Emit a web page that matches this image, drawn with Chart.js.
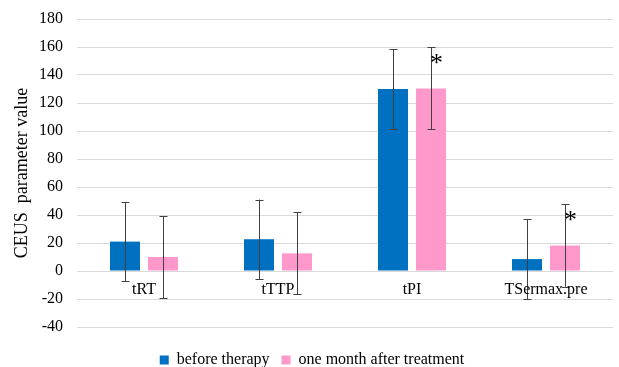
<!DOCTYPE html>
<html lang="en">
<head>
    <meta charset="UTF-8">
    <title>CEUS</title>
    <style>
        html, body { margin: 0; padding: 0; background: #fff; }
        #wrap { width: 619px; height: 367px; }
    </style>
</head>
<body>
<script src="https://cdn.jsdelivr.net/npm/chart.js@4.4.0/dist/chart.umd.min.js"></script>
<div id="wrap"><canvas id="bar-chart"></canvas></div>
<script>
    var categories = ["tRT", "tTTP", "tPI", "TSermax.pre"];
    var beforeMean = [21, 22.7, 130, 8.5];
    var beforeSd = [28.3, 28.3, 28.5, 28.5];
    var afterMean = [10, 12.6, 130.4, 18.2];
    var afterSd = [29.3, 29.3, 29.3, 29.4];
    var afterStar = [false, false, true, true];
    var seriesNames = ["before therapy", "one month after treatment"];

    var serif = "'Liberation Serif', 'Times New Roman', serif";
    var sds = [beforeSd, afterSd];
    var stars = [[false, false, false, false], afterStar];

    // error bars, asterisks and the category names under the zero line
    var extras = {
        id: 'extras',
        afterDatasetsDraw: function (chart) {
            var ctx = chart.ctx;
            var y = chart.scales.y;
            var x = chart.scales.x;
            ctx.save();
            for (var d = 0; d < chart.data.datasets.length; d++) {
                var meta = chart.getDatasetMeta(d);
                var vals = chart.data.datasets[d].data;
                meta.data.forEach(function (bar, i) {
                    var top = y.getPixelForValue(vals[i] + sds[d][i]);
                    var bot = y.getPixelForValue(vals[i] - sds[d][i]);
                    var cx = Math.round(bar.x) + 0.5;
                    ctx.strokeStyle = '#404040';
                    ctx.lineWidth = 1;
                    ctx.beginPath();
                    ctx.moveTo(cx, top);
                    ctx.lineTo(cx, bot);
                    ctx.moveTo(cx - 4, Math.round(top) + 0.5);
                    ctx.lineTo(cx + 4, Math.round(top) + 0.5);
                    ctx.moveTo(cx - 4, Math.round(bot) + 0.5);
                    ctx.lineTo(cx + 4, Math.round(bot) + 0.5);
                    ctx.stroke();
                    if (stars[d][i]) {
                        ctx.fillStyle = '#000';
                        ctx.font = '26px ' + serif;
                        ctx.textAlign = 'center';
                        ctx.textBaseline = 'middle';
                        ctx.fillText('*', cx + 5, top + 17);
                    }
                });
            }
            ctx.fillStyle = '#000';
            ctx.font = '16px ' + serif;
            ctx.textAlign = 'center';
            ctx.textBaseline = 'middle';
            var zero = y.getPixelForValue(0);
            categories.forEach(function (c, i) {
                ctx.fillText(c, x.getPixelForValue(i), zero + 19);
            });
            ctx.restore();
        }
    };

    new Chart(document.getElementById("bar-chart"), {
        type: 'bar',
        data: {
            labels: categories,
            datasets: [
                { label: seriesNames[0], data: beforeMean, backgroundColor: '#0070C0' },
                { label: seriesNames[1], data: afterMean, backgroundColor: '#FF99CC' }
            ]
        },
        options: {
            responsive: true,
            maintainAspectRatio: false,
            animation: false,
            datasets: { bar: { categoryPercentage: 0.567, barPercentage: 0.79 } },
            layout: { padding: { left: 11, right: 6, top: 19, bottom: -11 } },
            scales: {
                x: {
                    ticks: { display: false },
                    grid: { display: false },
                    border: { display: false },
                    afterFit: function (scale) { scale.height = 13; }
                },
                y: {
                    min: -40,
                    max: 180,
                    ticks: { stepSize: 20, color: '#000', padding: 0, font: { family: serif, size: 16 } },
                    grid: { color: '#d9d9d9', drawTicks: true, tickLength: 14, tickColor: 'rgba(0,0,0,0)' },
                    border: { display: false },
                    title: {
                        display: true,
                        text: 'CEUS  parameter value',
                        color: '#000',
                        font: { family: serif, size: 18 },
                        padding: { top: 0, bottom: 6 }
                    },
                    afterFit: function (scale) { scale.width = 66; }
                }
            },
            plugins: {
                legend: {
                    position: 'bottom',
                    labels: {
                        boxWidth: 9,
                        boxHeight: 9,
                        padding: 12,
                        color: '#000',
                        font: { family: serif, size: 16 }
                    }
                },
                tooltip: { enabled: false }
            }
        },
        plugins: [extras]
    });
</script>
</body>
</html>
